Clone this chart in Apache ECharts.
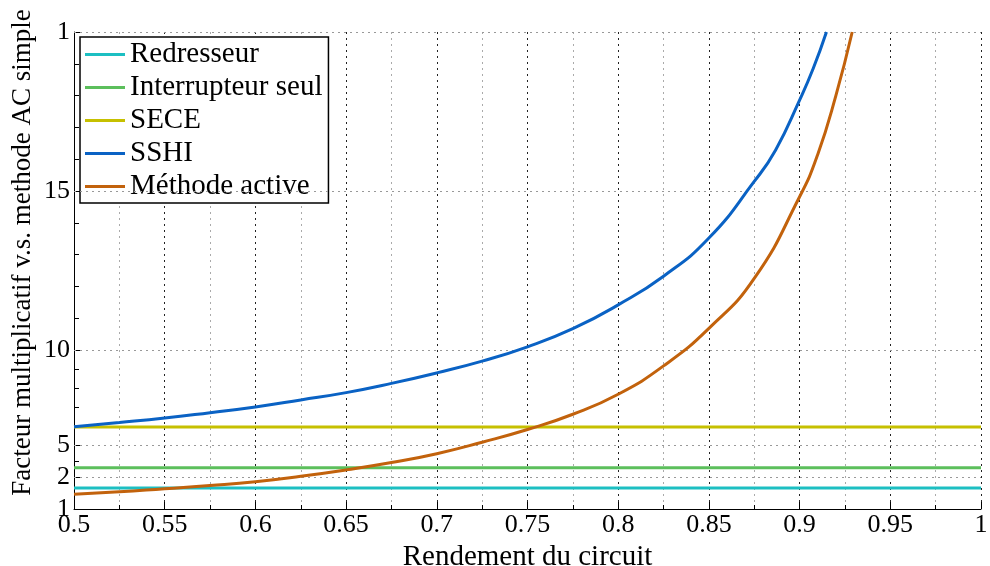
<!DOCTYPE html>
<html>
<head>
<meta charset="utf-8">
<script src="https://cdn.jsdelivr.net/npm/echarts@6/dist/echarts.min.js"></script>
<style>
  html, body { margin: 0; padding: 0; background: #fff; }
  #chart { width: 990px; height: 566px; }
</style>
</head>
<body>
<div id="chart"></div>
<script>
// ---- Data (y values are positions on the plot's internal linear scale 0..15) ----
const seriesNames = ['Redresseur', 'Interrupteur seul', 'SECE', 'SSHI', 'Méthode active'];
const seriesColors = ['#1cbfc2', '#5cbf5c', '#c6c000', '#0a62c4', '#c2620c'];

const flatX = [0.5, 1];
const redresseurY = [0.66, 0.66];
const interrupteurY = [1.30, 1.30];
const seceY = [2.58, 2.58];

const sshiX = [0.5, 0.525, 0.55, 0.575, 0.6, 0.625, 0.65, 0.675, 0.7, 0.725, 0.75, 0.775, 0.8, 0.825, 0.85, 0.875, 0.8868, 0.9, 0.9075, 0.9148];
const sshiY = [2.59, 2.72, 2.86, 3.03, 3.21, 3.43, 3.66, 3.95, 4.28, 4.65, 5.10, 5.67, 6.42, 7.32, 8.52, 10.3, 11.29, 12.86, 13.85, 15.0];

const activeX = [0.5, 0.525, 0.55, 0.575, 0.6, 0.625, 0.65, 0.675, 0.7, 0.725, 0.75, 0.775, 0.8, 0.825, 0.85, 0.875, 0.9, 0.91, 0.92, 0.929];
const activeY = [0.46, 0.54, 0.64, 0.74, 0.86, 1.03, 1.23, 1.46, 1.74, 2.10, 2.50, 2.98, 3.61, 4.50, 5.68, 7.25, 9.82, 11.15, 13.0, 15.0];

// y tick positions and their (cycled) labels as printed on the original
const yTickValues = [0, 1, 2, 5, 10, 15];
const yTickLabels = ['1', '2', '5', '10', '15', '1'];
const yMinorTickValues = [1.5, 2.6, 3.2, 3.8, 4.4, 6, 7, 8, 9, 11, 12, 13, 14];

const xTitle = 'Rendement du circuit';
const yTitle = 'Facteur multiplicatif v.s. methode AC simple';

// ---- Chart ----
const FONT = '"Liberation Serif", "Times New Roman", serif';
const zip = (xs, ys) => xs.map((x, i) => [x, ys[i]]);
const allY = [redresseurY, interrupteurY, seceY, sshiY, activeY];
const allX = [flatX, flatX, flatX, sshiX, activeX];

const chart = echarts.init(document.getElementById('chart'), null, { renderer: 'canvas' });

const series = seriesNames.map((name, i) => ({
  name: name,
  type: 'line',
  xAxisIndex: 0, yAxisIndex: 0,
  data: zip(allX[i], allY[i]),
  symbol: 'none',
  showSymbol: false,
  smooth: i >= 3 ? 0.5 : false,
  clip: true,
  color: seriesColors[i],
  lineStyle: { color: seriesColors[i], width: 3 },
  z: 3 + i
}));

// horizontal grid lines at the major y ticks (skip the bottom axis line)
series.push({
  name: 'hgrid',
  type: 'line',
  data: [],
  z: 1,
  markLine: {
    silent: true,
    symbol: ['none', 'none'],
    label: { show: false },
    lineStyle: { color: '#999', type: [2, 4], width: 1 },
    data: yTickValues.filter(v => v > 0).map(v => ({ yAxis: v }))
  }
});

chart.setOption({
  animation: false,
  backgroundColor: '#fff',
  grid: { left: 74, right: 9, top: 32, bottom: 57, containLabel: false, outerBoundsMode: 'none' },
  legend: {
    orient: 'vertical',
    left: 80, top: 37,
    icon: 'rect',
    itemWidth: 40, itemHeight: 3, itemGap: 0,
    padding: [1, 6, 0, 5],
    borderColor: '#000', borderWidth: 1.5,
    backgroundColor: '#fff',
    textStyle: { fontFamily: FONT, fontSize: 29, lineHeight: 33, color: '#000' },
    data: seriesNames
  },
  xAxis: [{
    type: 'value', min: 0.5, max: 1, interval: 0.05,
    name: xTitle, nameLocation: 'middle', nameGap: 24,
    nameTextStyle: { fontFamily: FONT, fontSize: 29, color: '#000' },
    axisLine: { show: true, onZero: false, lineStyle: { color: '#000', width: 1 } },
    axisTick: { show: true, inside: true, length: 7, lineStyle: { color: '#000' } },
    minorTick: { show: true, splitNumber: 2, length: 4, lineStyle: { color: '#000' } },
    axisLabel: { fontFamily: FONT, fontSize: 26, color: '#000', margin: 3 },
    splitLine: { show: true, lineStyle: { color: '#222', type: [2, 4], width: 1 } },
    minorSplitLine: { show: true, lineStyle: { color: '#aaa', type: [2, 4], width: 1 } }
  }],
  yAxis: [{
    type: 'value', min: 0, max: 15,
    name: yTitle, nameLocation: 'middle', nameGap: 38, nameMoveOverlap: false,
    nameTextStyle: { fontFamily: FONT, fontSize: 27, color: '#000', padding: [0, 0, 0, 36] },
    axisLine: { show: true, onZero: false, lineStyle: { color: '#000', width: 1 } },
    axisTick: { show: true, inside: true, length: 8, customValues: yTickValues, lineStyle: { color: '#000' } },
    axisLabel: {
      fontFamily: FONT, fontSize: 26, color: '#000', margin: 4,
      customValues: yTickValues,
      formatter: function (v) {
        const i = yTickValues.indexOf(v);
        return i >= 0 ? yTickLabels[i] : '';
      }
    },
    splitLine: { show: false }
  }, {
    type: 'value', min: 0, max: 15, position: 'left',
    axisLine: { show: false },
    axisLabel: { show: false },
    splitLine: { show: false },
    axisTick: { show: true, inside: true, length: 5, customValues: yMinorTickValues, lineStyle: { color: '#000' } }
  }],
  series: series
});
</script>
</body>
</html>
